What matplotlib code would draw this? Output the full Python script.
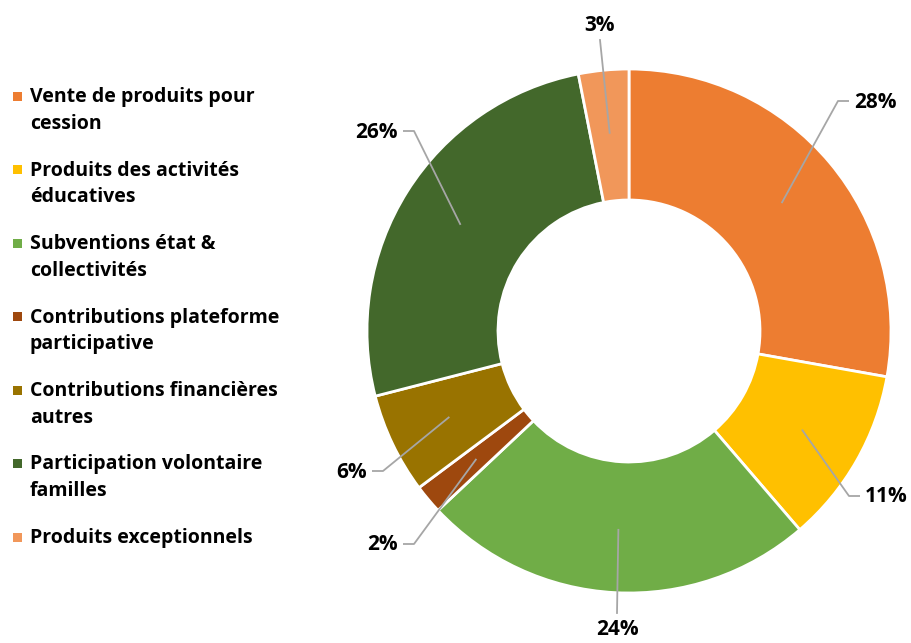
import numpy as np
import matplotlib
matplotlib.use("Agg")
import matplotlib.pyplot as plt
from matplotlib.patches import Rectangle

# Data
categories = [
    "Vente de produits pour\ncession",
    "Produits des activités\néducatives",
    "Subventions état &\ncollectivités",
    "Contributions plateforme\nparticipative",
    "Contributions financières\nautres",
    "Participation volontaire\nfamilles",
    "Produits exceptionnels",
]
shares = [27.8, 10.9, 24.3, 1.8, 6.2, 25.9, 3.1]
colors = ["#ED7D31", "#FFC000", "#70AD47", "#9E480E", "#997300", "#43682B", "#F1975A"]

# Layout (pixel units, y measured from top)
W, H = 912, 643
CX, CY, R = 629, 331, 262
# leader end point and side where the label sits
label_end = [(849, 101, "right"), (860, 496, "right"), (617, 613, "below"),
             (403, 544, "left"), (372, 471, "left"), (403, 131, "left"), (600, 40, "above")]

FONT = "Open Sans"
FS = 14
FS_PCT = 15

fig = plt.figure(figsize=(W / 100, H / 100), dpi=100)
ax = fig.add_axes([0, 0, 1, 1])

wedges, _ = ax.pie(shares, colors=colors, startangle=90, counterclock=False,
                   center=(CX, H - CY), radius=R,
                   wedgeprops=dict(width=R / 2, edgecolor="white", linewidth=2))
ax.set_xlim(0, W)
ax.set_ylim(0, H)
ax.set_aspect("equal")
ax.axis("off")

# Leader lines + labels
for w, v, (ex, ey, side) in zip(wedges, shares, label_end):
    mid = np.deg2rad((w.theta1 + w.theta2) / 2)
    sx = CX + 0.76 * R * np.cos(mid)
    sy = (H - CY) + 0.76 * R * np.sin(mid)
    ey = H - ey
    txt = f"{v:.0f}%"
    if side in ("right", "left"):
        d = 1 if side == "right" else -1
        ax.plot([sx, ex - d * 11, ex], [sy, ey, ey], color="#A6A6A6", lw=1.3,
                solid_capstyle="butt")
        ax.text(ex + d * 5, ey - 1, txt, ha="left" if d > 0 else "right", va="center",
                fontsize=FS_PCT, fontweight="bold", family=FONT)
    else:
        ax.plot([sx, ex], [sy, ey], color="#A6A6A6", lw=1.3)
        if side == "below":
            ax.text(ex, ey - 6, txt, ha="center", va="top",
                    fontsize=FS_PCT, fontweight="bold", family=FONT)
        else:
            ax.text(ex, ey + 4, txt, ha="center", va="bottom",
                    fontsize=FS_PCT, fontweight="bold", family=FONT)

# Legend drawn by hand so the marker lines up with the first text line
for i, (lab, c) in enumerate(zip(categories, colors)):
    y = 96 + i * 73.5
    ax.add_patch(Rectangle((13, H - y - 4.5), 9, 9, color=c, lw=0))
    ax.text(30, H - y + 9, lab, ha="left", va="top", fontsize=FS,
            fontweight="bold", family=FONT, linespacing=1.45)

fig.savefig("out.png", dpi=100)
